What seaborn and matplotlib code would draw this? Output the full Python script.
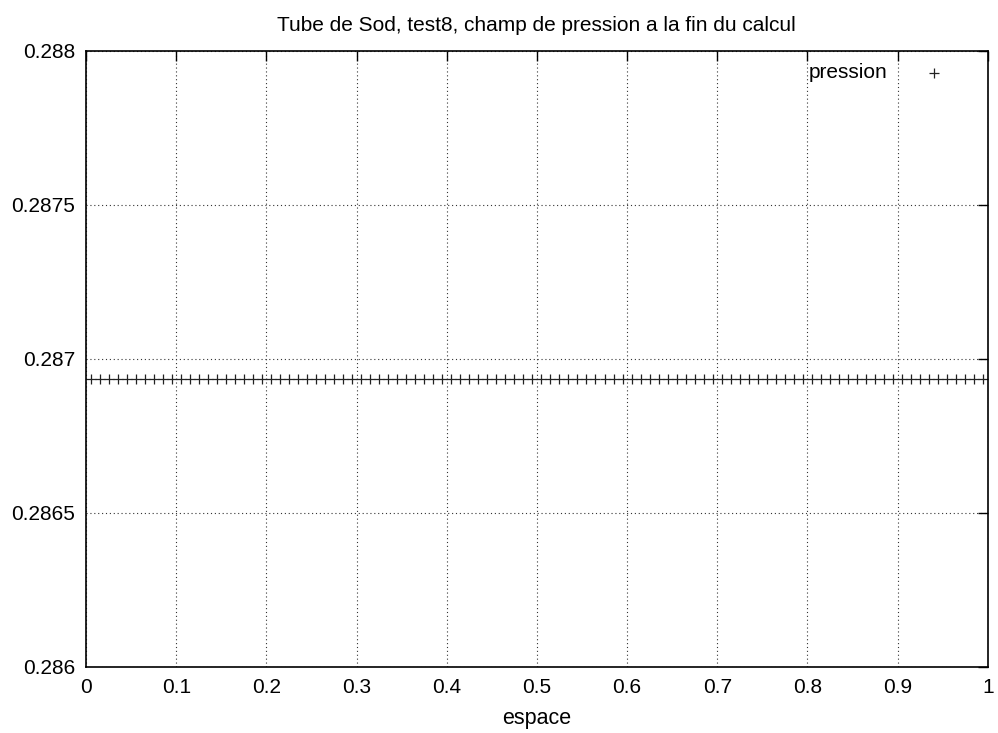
import matplotlib
matplotlib.use("Agg")
import matplotlib.pyplot as plt
import seaborn as sns
import pandas as pd

# Donnees: centres des mailles et pression finale
espace = [0.005, 0.015, 0.025, 0.035, 0.045, 0.055, 0.065, 0.075, 0.085, 0.095,
          0.105, 0.115, 0.125, 0.135, 0.145, 0.155, 0.165, 0.175, 0.185, 0.195,
          0.205, 0.215, 0.225, 0.235, 0.245, 0.255, 0.265, 0.275, 0.285, 0.295,
          0.305, 0.315, 0.325, 0.335, 0.345, 0.355, 0.365, 0.375, 0.385, 0.395,
          0.405, 0.415, 0.425, 0.435, 0.445, 0.455, 0.465, 0.475, 0.485, 0.495,
          0.505, 0.515, 0.525, 0.535, 0.545, 0.555, 0.565, 0.575, 0.585, 0.595,
          0.605, 0.615, 0.625, 0.635, 0.645, 0.655, 0.665, 0.675, 0.685, 0.695,
          0.705, 0.715, 0.725, 0.735, 0.745, 0.755, 0.765, 0.775, 0.785, 0.795,
          0.805, 0.815, 0.825, 0.835, 0.845, 0.855, 0.865, 0.875, 0.885, 0.895,
          0.905, 0.915, 0.925, 0.935, 0.945, 0.955, 0.965, 0.975, 0.985, 0.995]
pression = [0.286933] * len(espace)

x_ticks = [0, 0.1, 0.2, 0.3, 0.4, 0.5, 0.6, 0.7, 0.8, 0.9, 1]
x_labels = ["0", "0.1", "0.2", "0.3", "0.4", "0.5", "0.6", "0.7", "0.8", "0.9", "1"]
y_ticks = [0.286, 0.2865, 0.287, 0.2875, 0.288]
y_labels = ["0.286", "0.2865", "0.287", "0.2875", "0.288"]

dados = pd.DataFrame({"espace": espace, "pression": pression})

sns.set_style("white")
plt.rcParams['font.family'] = ['Liberation Sans', 'DejaVu Sans']
plt.rcParams['text.color'] = 'black'
plt.rcParams['axes.labelcolor'] = 'black'

fig = plt.figure(figsize=(9.98, 7.33), dpi=100)
ax = fig.add_axes([0.0862, 0.0905, 0.9035, 0.8403])

sns.scatterplot(data=dados, x="espace", y="pression", marker="+", s=45,
                color="#222222", linewidth=0.9, label="pression", ax=ax)

ax.set_xlim(0, 1)
ax.set_ylim(0.286, 0.288)
ax.set_xticks(x_ticks)
ax.set_xticklabels(x_labels)
ax.set_yticks(y_ticks)
ax.set_yticklabels(y_labels)
ax.tick_params(direction="in", length=7, width=1, top=True, right=True,
               labelsize=15, pad=8, colors="black")
ax.grid(True, linestyle=(0, (1, 2.5)), color="#333333", linewidth=0.8)
for sp in ax.spines.values():
    sp.set_linewidth(1.2)
    sp.set_color("black")

ax.set_title("Tube de Sod, test8, champ de pression a la fin du calcul",
             fontsize=15, pad=14, color="black")
ax.set_xlabel("espace", fontsize=15.5, labelpad=8)
ax.set_ylabel("")

ax.legend(loc="upper right", frameon=False, markerfirst=False, fontsize=15,
          handletextpad=1.2, borderaxespad=0.2, bbox_to_anchor=(0.977, 1.0))

fig.savefig("out.png", dpi=100)
